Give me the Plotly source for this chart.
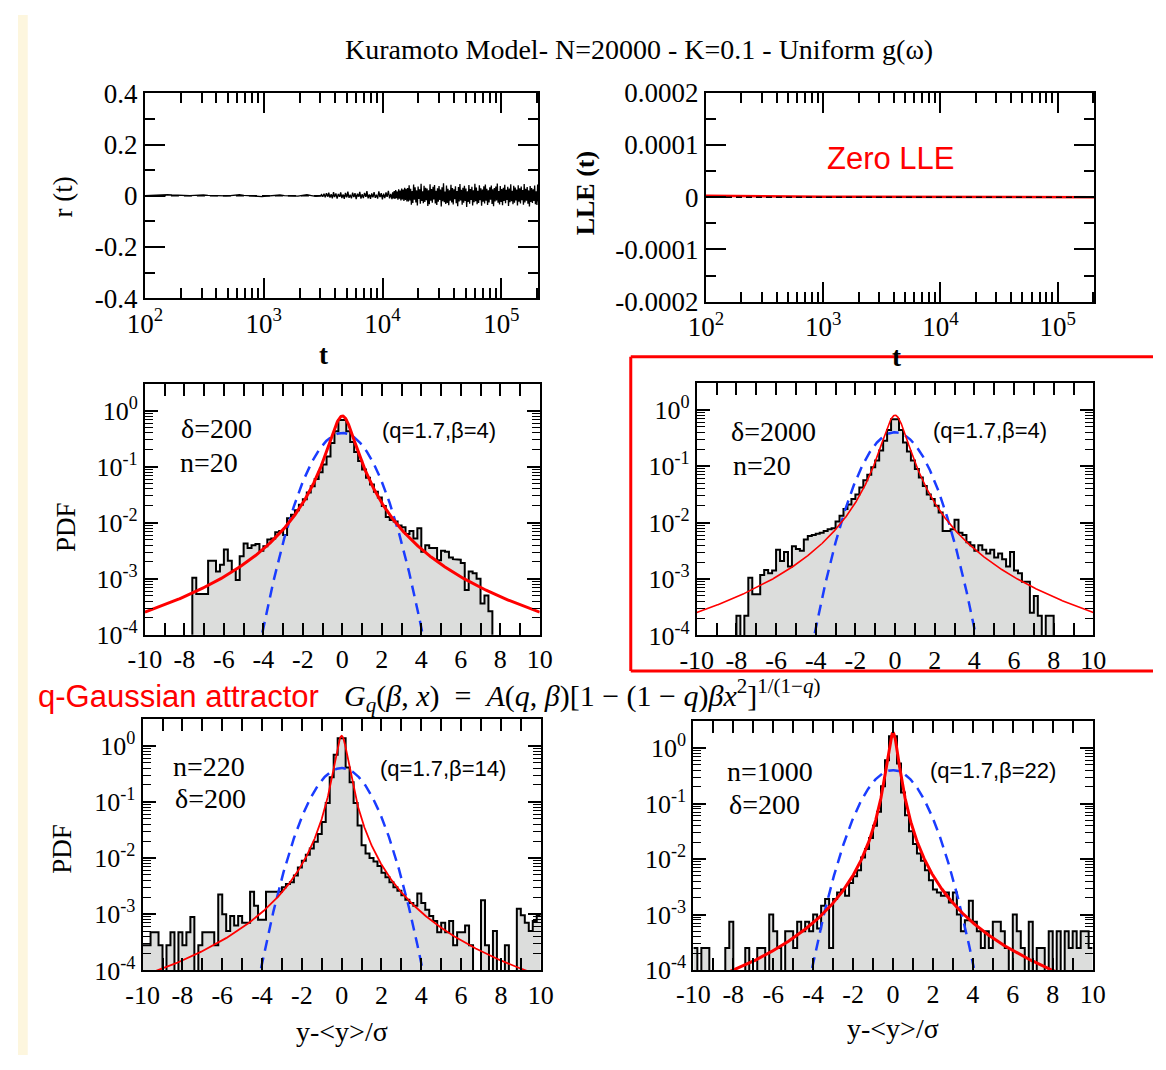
import numpy as np
import plotly.graph_objects as go
from math import gamma, sqrt, pi

W, H = 1166, 1070

# ---------------- data ----------------
# order parameter r(t), in units of 1e-3, sampled over three time spans
r_spans = [(1e2, 3e3), (3e3, 1.2e4), (1.2e4, 2.05e5)]
r_early = [1, 2, 3, 3, 4, 4, 3, 2, 2, 1, 1, 2, 3, 3, 2, 1, 0, -1, 0, 1,
           3, 4, 2, 1, 0, -2, -3, -1, 0, 2, 3, 1, 0, -2, -1, 2, 4, 1, -2, 0]
r_mid = [5, -4, 8, -6, 10, -3, 12, -7, 6, -10, 14, -5, 9, -11, 7, -4, 13, -9, 5, -12,
         11, -6, 16, -8, 4, -10, 12, -5, 10, -13, 8, -3, 15, -11, 6, -9, 11, -4, 18, -10,
         5, -12, 9, -6, 14, -8, 4, -11, 17, -5, 10, -14, 8, -9, 13, -4, 19, -10, 7, -13]
r_late = [14, -10, 18, -12, 22, -9, 17, -15, 25, -11, 20, -18, 28, -14, 24, -20, 31, -16, 27, -22,
          30, -22, 41, -18, 27, -35, 19, -28, 44, -15, 33, -26, 21, -38, 36, -12, 25, -31, 47, -20,
          18, -29, 39, -24, 31, -17, 28, -40, 22, -33, 45, -19, 26, -27, 35, -14, 42, -30, 20, -36,
          29, -23, 38, -16, 24, -42, 33, -21, 49, -25, 17, -32, 40, -28, 27, -37, 21, -19, 43, -26,
          30, -34, 25, -13, 37, -29, 19, -41, 34, -22, 46, -18, 23, -35, 31, -27, 39, -20, 28, -44,
          18, -24, 42, -31, 26, -16, 35, -38, 22, -25, 47, -21, 32, -33, 20, -28, 41, -17, 29, -39,
          24, -23, 37, -30, 44, -19, 27, -36, 21, -26, 33, -15, 40, -32, 25, -41, 30, -22, 36, -18,
          48, -27, 19, -34, 38, -24, 26, -37, 31, -20, 43, -29, 23, -16, 35, -40, 28, -25, 45, -21,
          20, -33, 39, -27, 32, -18, 24, -38, 41, -23, 29, -30, 36, -17, 22, -35, 46, -26, 27, -19,
          34, -31, 21, -42, 38, -24, 30, -28, 25, -20, 40, -33, 18, -36, 44, -22]

# largest Lyapunov exponent
lle_t = [1e2, 2e2, 5e2, 1e3, 2e3, 5e3, 1e4, 2e4, 5e4, 1e5, 2.05e5]
lle_val = [3e-6, 2e-6, 1.5e-6, 1e-6, 8e-7, 5e-7, 4e-7, 3e-7, 2e-7, 1e-7, 1e-7]

# histograms of the normalised sums: log10(PDF) per bin, None = empty bin
bin_start = -10.0
bin_width = 0.2
N = None
log_pdf_d200_n20 = [
    N, N, N, N, N, N, N, N, N, N,
    N, N, -2.98, -3.27, -3.27, -3.27, -2.68, -2.68, -2.87, -2.75,
    -2.48, -2.68, -2.85, -3.02, -2.60, -2.37, -2.45, -2.40, -2.38, -2.50,
    -2.42, -2.30, -2.28, -2.17, -2.15, -2.22, -1.92, -1.86, -1.78, -1.68,
    -1.58, -1.46, -1.35, -1.22, -1.10, -0.96, -0.82, -0.58, -0.37, -0.17,
    -0.17, -0.37, -0.56, -0.74, -0.90, -1.05, -1.20, -1.32, -1.45, -1.55,
    -1.70, -1.90, -1.95, -1.98, -2.05, -2.08, -2.20, -2.15, -2.28, -2.10,
    -2.52, -2.40, -2.45, -2.45, -2.67, -2.50, -2.52, -2.62, -2.65, -2.66,
    -2.72, -3.20, -2.87, -2.90, -3.00, -3.44, -3.30, -3.58, N, N,
    N, N, N, N, N, N, N, N, N, N]
log_pdf_d2000_n20 = [
    N, N, N, N, N, N, N, N, N, N,
    -3.65, N, -3.65, -2.98, -3.27, -3.27, -2.93, -2.84, -2.90, -2.85,
    -2.48, -2.68, -2.52, -2.78, -2.42, -2.47, -2.50, -2.30, -2.24, -2.22,
    -2.20, -2.18, -2.15, -2.12, -2.10, -1.98, -1.88, -1.76, -1.68, -1.58,
    -1.50, -1.38, -1.25, -1.15, -1.02, -0.90, -0.72, -0.55, -0.36, -0.17,
    -0.17, -0.36, -0.58, -0.74, -0.90, -1.05, -1.20, -1.35, -1.50, -1.58,
    -1.70, -1.82, -2.15, -2.15, -2.12, -1.95, -2.18, -2.22, -2.35, -2.40,
    -2.50, -2.40, -2.48, -2.55, -2.48, -2.62, -2.55, -2.65, -2.78, -2.52,
    -2.85, -2.90, -3.05, -3.05, -3.60, -3.30, -3.65, N, -3.65, -3.65,
    N, N, N, N, N, N, N, N, N, N]
log_pdf_d200_n220 = [
    -3.55, -3.55, -3.32, -3.32, -3.55, N, -3.55, -3.32, N, -3.32,
    -3.55, -3.32, -3.05, N, -3.55, -3.32, -3.32, -3.32, -3.55, -2.65,
    -3.00, -3.30, -3.03, -3.20, -3.03, -3.15, -3.15, -2.60, -2.85, -3.10,
    -3.10, -2.60, -2.60, -2.60, -2.60, -2.52, -2.46, -2.43, -2.31, -2.17,
    -2.05, -1.94, -1.83, -1.71, -1.57, -1.36, -1.02, -0.56, -0.16, 0.13,
    0.13, -0.39, -0.65, -1.02, -1.42, -1.77, -1.92, -2.00, -2.06, -2.14,
    -2.26, -2.34, -2.43, -2.52, -2.58, -2.66, -2.74, -2.80, -2.85, -2.63,
    -2.80, -2.92, -3.03, -3.12, -3.32, -3.15, -3.32, -3.12, -3.55, -3.32,
    -3.32, -3.20, -3.55, N, N, -2.75, -3.55, N, -3.30, N,
    N, -3.55, N, N, -2.90, -3.02, -3.15, -3.30, -3.12, -3.02]
log_pdf_d200_n1000 = [
    -3.60, N, -3.60, -3.60, N, N, N, N, -3.60, -3.13,
    N, N, N, -3.60, N, N, -3.60, -3.60, N, -3.00,
    -3.30, -3.60, N, -3.30, -3.30, -3.60, -3.13, -3.30, -3.13, -3.30,
    -3.00, -3.25, -2.84, -2.72, -3.60, -2.72, -2.60, -2.55, -2.66, -2.43,
    -2.31, -2.20, -1.97, -1.82, -1.62, -1.40, -1.15, -0.69, -0.22, 0.21,
    0.21, -0.28, -0.80, -1.21, -1.50, -1.73, -1.90, -2.03, -2.20, -2.38,
    -2.55, -2.60, -2.66, -2.60, -2.78, -2.60, -3.00, -3.30, -3.10, -2.75,
    -3.13, -3.30, -3.60, -3.30, -3.60, -3.13, -3.13, -3.30, -3.60, N,
    -3.00, -3.30, -3.60, N, -3.13, N, -3.60, -3.60, N, -3.30,
    N, -3.30, N, -3.30, -3.60, -3.30, -3.60, -3.30, -3.30, -3.60]

q_value = 1.7
beta_values = [4, 4, 14, 22]
hist_sets = [log_pdf_d200_n20, log_pdf_d2000_n20, log_pdf_d200_n220, log_pdf_d200_n1000]
panel_text = [("δ=200", "n=20"), ("δ=2000", "n=20"), ("n=220", "δ=200"), ("n=1000", "δ=200")]

# ---------------- styling ----------------
SERIF = "Liberation Serif"
SANS = "Liberation Sans"
RED = "#ff0000"
BLUE = "#1a3cff"
GRAY = "#dcdddc"


def fx(p):
    return p / W


def fy(p):
    return 1 - p / H


# plot boxes in pixels: (left, right, top, bottom)
boxes = [
    (130.4, 534.6, 80.7, 291.3),
    (706.8, 1105.7, 80.0, 295.0),
    (130.4, 536.0, 379.3, 637.7),
    (697.3, 1104.7, 378.3, 638.3),
    (128.0, 537.0, 724.0, 983.0),
    (693.8, 1104.0, 726.7, 982.7),
]

top_font = dict(family=SERIF, size=27, color="black")
hist_font = dict(family=SERIF, size=26, color="black")


def base_axis(domain, font, **kw):
    d = dict(domain=domain, showline=True, linecolor="black", linewidth=2,
             mirror="allticks", ticks="inside", tickcolor="black", tickwidth=1.5,
             showgrid=False, zeroline=False, tickfont=font, tickmode="array")
    d.update(kw)
    return d


fig = go.Figure()
layout_axes = {}

t_log_max = np.log10(2.05e5)
log_major = [1e2, 1e3, 1e4, 1e5]
log_major_txt = ["10<sup>2</sup>", "10<sup>3</sup>", "10<sup>4</sup>", "10<sup>5</sup>"]
log_minor = [k * 10.0 ** d for d in range(2, 6) for k in range(2, 10) if k * 10.0 ** d <= 2.05e5]

for i, (l, r, t, b) in enumerate(boxes):
    n = "" if i == 0 else str(i + 1)
    xd = [fx(l), fx(r)]
    yd = [fy(b), fy(t)]
    if i < 2:
        xa = base_axis(xd, top_font, type="log", range=[2, t_log_max], tickvals=log_major,
                       ticktext=log_major_txt, ticklen=20,
                       minor=dict(tickmode="array", tickvals=log_minor, ticks="inside",
                                  ticklen=10, tickwidth=1.5, tickcolor="black", showgrid=False))
        if i == 0:
            ya = base_axis(yd, top_font, range=[-0.4, 0.4], tickvals=[-0.4, -0.2, 0, 0.2, 0.4],
                           ticktext=["-0.4", "-0.2", "0", "0.2", "0.4"], ticklen=20,
                           minor=dict(tickmode="array", tickvals=[-0.3, -0.1, 0.1, 0.3],
                                      ticks="inside", ticklen=10, tickwidth=1.5,
                                      tickcolor="black", showgrid=False))
        else:
            ya = base_axis(yd, top_font, range=[-0.0002, 0.0002],
                           tickvals=[-0.0002, -0.0001, 0, 0.0001, 0.0002],
                           ticktext=["-0.0002", "-0.0001", "0", "0.0001", "0.0002"], ticklen=20,
                           minor=dict(tickmode="array",
                                      tickvals=[-0.00015, -0.00005, 0.00005, 0.00015],
                                      ticks="inside", ticklen=10, tickwidth=1.5,
                                      tickcolor="black", showgrid=False))
    else:
        xa = base_axis(xd, hist_font, range=[-10, 10], tickvals=list(range(-10, 11, 2)),
                       ticktext=[str(v) for v in range(-10, 11, 2)], ticklen=12,
                       minor=dict(tickmode="array", tickvals=list(range(-9, 10, 2)),
                                  ticks="inside", ticklen=12, tickwidth=1.5,
                                  tickcolor="black", showgrid=False))
        ya = base_axis(yd, hist_font, type="log", range=[-4, 0.48],
                       tickvals=[1e-4, 1e-3, 1e-2, 1e-1, 1],
                       ticktext=["10<sup>-4</sup>", "10<sup>-3</sup>", "10<sup>-2</sup>",
                                 "10<sup>-1</sup>", "10<sup>0</sup>"], ticklen=13,
                       minor=dict(tickmode="array",
                                  tickvals=[k * 10.0 ** d for d in range(-4, 0) for k in range(2, 10)],
                                  ticks="inside", ticklen=8, tickwidth=1.2,
                                  tickcolor="black", showgrid=False))
    xa["anchor"] = "y" + n
    ya["anchor"] = "x" + n
    layout_axes["xaxis" + n] = xa
    layout_axes["yaxis" + n] = ya

# ---------------- r(t) ----------------
r_t, r_v = [], []
for (t0, t1), seg in zip(r_spans, [r_early, r_mid, r_late]):
    ts = np.geomspace(t0, t1, len(seg) + 1)[1:] if r_t else np.geomspace(t0, t1, len(seg))
    r_t.extend(ts)
    r_v.extend(np.array(seg) * 1e-3)
fig.add_trace(go.Scatter(x=[1e2, 2.05e5], y=[0, 0], mode="lines",
                         line=dict(color="black", width=1.5, dash="8px,5px"),
                         xaxis="x", yaxis="y", hoverinfo="skip"))
fig.add_trace(go.Scatter(x=r_t, y=r_v, mode="lines", line=dict(color="black", width=1.3),
                         xaxis="x", yaxis="y", hoverinfo="skip"))

# ---------------- LLE(t) ----------------
fig.add_trace(go.Scatter(x=lle_t, y=lle_val, mode="lines", line=dict(color=RED, width=2.5),
                         xaxis="x2", yaxis="y2", hoverinfo="skip"))
fig.add_trace(go.Scatter(x=[1e2, 2.05e5], y=[0, 0], mode="lines",
                         line=dict(color="black", width=1.5, dash="6px,4px"),
                         xaxis="x2", yaxis="y2", hoverinfo="skip"))


# ---------------- histograms ----------------
def q_gauss(x, q, beta):
    a = sqrt(beta * (q - 1) / pi) * gamma(1 / (q - 1)) / gamma((3 - q) / (2 * (q - 1)))
    return a * (1 + (q - 1) * beta * x ** 2) ** (1 / (1 - q))


# the fitted curves are only drawn where they lie inside the plotted decades
xc = np.linspace(-10, 10, 1201)
xg = np.linspace(-4.05, 4.05, 400)
gauss = np.exp(-xg ** 2 / 2) / np.sqrt(2 * np.pi)
red_widths = [3, 1.6, 1.8, 3]
floor = 10 ** -4.1

for k, (logs, beta) in enumerate(zip(hist_sets, beta_values)):
    ax_n = str(k + 3)
    vals = [floor if v is None else 10.0 ** v for v in logs]
    xs, ys = [], []
    for j, v in enumerate(vals):
        left = bin_start + j * bin_width
        xs += [left, left + bin_width]
        ys += [v, v]
    fig.add_trace(go.Scatter(x=[xs[0]] + xs + [xs[-1]], y=[floor] + ys + [floor],
                             fill="toself", fillcolor=GRAY, mode="lines", line=dict(width=0),
                             xaxis="x" + ax_n, yaxis="y" + ax_n, hoverinfo="skip"))
    fig.add_trace(go.Scatter(x=xs, y=ys, mode="lines", line=dict(color="black", width=2),
                             xaxis="x" + ax_n, yaxis="y" + ax_n, hoverinfo="skip"))
    fig.add_trace(go.Scatter(x=xg, y=gauss, mode="lines",
                             line=dict(color=BLUE, width=2.5, dash="11px,7px"),
                             xaxis="x" + ax_n, yaxis="y" + ax_n, hoverinfo="skip"))
    qg = q_gauss(xc, q_value, beta)
    keep = qg >= 10 ** -4.1
    fig.add_trace(go.Scatter(x=xc[keep], y=qg[keep], mode="lines",
                             line=dict(color=RED, width=red_widths[k]),
                             xaxis="x" + ax_n, yaxis="y" + ax_n, hoverinfo="skip"))

# ---------------- text ----------------
ann = []


def text(x, y, s, size, family=SERIF, color="black", xanchor="left", angle=0):
    ann.append(dict(x=fx(x), y=fy(y), xref="paper", yref="paper", text=s, showarrow=False,
                    xanchor=xanchor, yanchor="middle", textangle=angle,
                    font=dict(family=family, size=size, color=color)))


text(638, 35, "Kuramoto Model- N=20000 - K=0.1 - Uniform g(ω)", 28, xanchor="center")
text(46, 187, "r (t)", 27, xanchor="center", angle=-90)
text(583, 183, "<b>LLE (t)</b>", 26, xanchor="center", angle=-90)
text(314, 350, "<b>t</b>", 27, xanchor="center")
text(902, 352, "<b>t</b>", 27, xanchor="center")
text(897, 148, "Zero LLE", 31, family=SANS, color=RED, xanchor="center")

text(50, 527, "PDF", 27, xanchor="center", angle=-90)
text(45, 858, "PDF", 27, xanchor="center", angle=-90)

label_pos = [
    ((165, 425), (164, 460), (372, 427)),
    ((730, 428), (732, 463), (938, 427)),
    ((157, 773), (159, 806), (370, 775)),
    ((726, 778), (728, 812), (935, 777)),
]
for (p1, p2, p3), (s1, s2), beta in zip(label_pos, panel_text, beta_values):
    text(p1[0], p1[1], s1, 28)
    text(p2[0], p2[1], s2, 28)
    text(p3[0], p3[1], f"(q={q_value},β={beta})", 22, family=SANS)

text(333, 1046, "y-&lt;y&gt;/σ", 28, xanchor="center")
text(899, 1043, "y-&lt;y&gt;/σ", 28, xanchor="center")

text(18, 701, "q-Gaussian attractor", 31, family=SANS, color=RED)
formula = ("<i>G</i><sub><i>q</i></sub>(<i>β</i>, <i>x</i>)\u2002=\u2002<i>A</i>(<i>q</i>, <i>β</i>)"
           "[1 \u2212 (1 \u2212 <i>q</i>)<i>βx</i><sup>2</sup>]"
           "<sup>1/(1\u2212<i>q</i>)</sup>")
text(333, 700, formula, 30)

# highlight frame around the second histogram; it runs off the right edge of the page
frame_l, frame_t, frame_b = 629.5, 351.5, 675.0
frame = dict(color=RED, width=3)
shapes = [
    dict(type="rect", xref="paper", yref="paper", x0=0, x1=fx(10), y0=0, y1=1,
         fillcolor="#fdf6de", line=dict(width=0), layer="below"),
    dict(type="line", xref="paper", yref="paper", x0=fx(frame_l), x1=1,
         y0=fy(frame_t), y1=fy(frame_t), line=frame, layer="above"),
    dict(type="line", xref="paper", yref="paper", x0=fx(frame_l), x1=1,
         y0=fy(frame_b), y1=fy(frame_b), line=frame, layer="above"),
    dict(type="line", xref="paper", yref="paper", x0=fx(frame_l), x1=fx(frame_l),
         y0=fy(frame_b), y1=fy(frame_t), line=frame, layer="above"),
]

fig.update_layout(width=W, height=H, margin=dict(l=0, r=0, t=0, b=0),
                  paper_bgcolor="white", plot_bgcolor="white", showlegend=False,
                  annotations=ann, shapes=shapes, **layout_axes)

# pin the figure to the top-left corner of the page so it fills the window exactly
page_css = """
document.documentElement.style.margin = '0';
document.documentElement.style.padding = '0';
document.documentElement.style.overflow = 'hidden';
document.body.style.margin = '0';
document.body.style.padding = '0';
document.body.style.overflow = 'hidden';
var gd = document.getElementById('{plot_id}');
gd.style.overflow = 'hidden';
window.scrollTo(0, 0);
"""
fig.write_html("out.html", post_script=page_css)
